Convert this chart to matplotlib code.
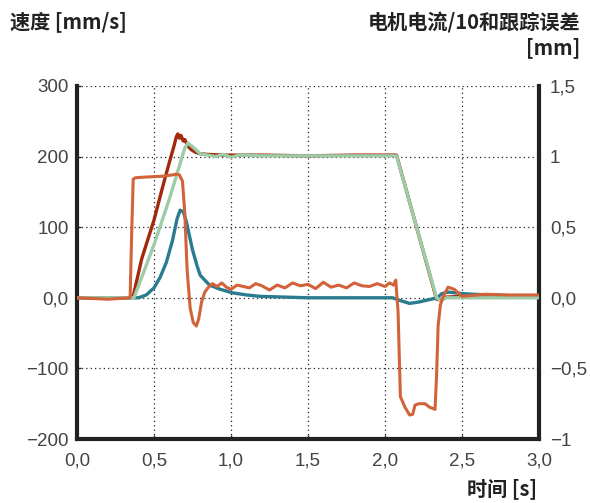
import matplotlib.pyplot as plt
from matplotlib.ticker import FixedLocator, FixedFormatter

plt.rcParams['font.family'] = ['Noto Sans CJK SC', 'DejaVu Sans']

# ─── 数据───
# 实际速度 [mm/s]
vel_t = [0.0, 0.20, 0.34, 0.365, 0.42, 0.50, 0.56, 0.60, 0.63, 0.645, 0.655, 0.665, 0.675, 0.69, 0.70,
         0.72, 0.74, 0.77, 0.80, 0.85, 0.95, 1.2, 1.5, 1.8, 2.0, 2.075, 2.20, 2.335, 2.36, 2.40, 2.5, 3.0]
vel_v = [0, -1, 0, 2, 55, 110, 160, 192, 215, 228, 232, 226, 230, 222, 224,
         215, 210, 206, 204, 203, 202, 202, 201, 202, 202, 202, 104, -2, -3, 1, 2, 2]

# 指令速度 [mm/s]
cmd_t = [0.0, 0.37, 0.50, 0.60, 0.70, 0.72, 0.75, 0.80, 0.85, 0.90, 0.95, 1.00, 1.05, 1.2, 1.5, 1.8, 2.075,
         2.20, 2.335, 2.36, 2.40, 2.5, 3.0]
cmd_v = [0, 0, 75, 140, 212, 219, 214, 204, 202, 200, 203, 199, 202, 201, 201, 201, 201,
         104, 0, -4, 0, 0, 0]

# 电机电流/10
cur_t = [0.0, 0.20, 0.345, 0.355, 0.365, 0.38, 0.45, 0.55, 0.62, 0.645, 0.665, 0.685, 0.70, 0.715, 0.735,
         0.755, 0.775, 0.79, 0.81, 0.83, 0.85, 0.88, 0.91, 0.94, 0.97, 1.00, 1.04, 1.08, 1.12, 1.16,
         1.20, 1.25, 1.30, 1.35, 1.40, 1.45, 1.50, 1.55, 1.60, 1.65, 1.70, 1.75, 1.80, 1.85, 1.90,
         1.95, 2.00, 2.03, 2.055, 2.07, 2.085, 2.10, 2.13, 2.16, 2.18, 2.195, 2.22, 2.26, 2.29, 2.325,
         2.335, 2.345, 2.36, 2.38, 2.41, 2.45, 2.50, 2.55, 2.65, 2.8, 3.0]
cur_v = [0, -2, 0, 90, 168, 170, 171, 172, 174, 175, 174, 165, 120, 40, -15,
         -35, -40, -30, -5, 8, 14, 20, 16, 21, 15, 12, 18, 16, 14, 20,
         17, 11, 18, 14, 21, 17, 19, 13, 22, 15, 18, 14, 21, 17, 16,
         20, 16, 21, 18, 25, -20, -140, -155, -166, -165, -152, -150, -150, -155, -158,
         -110, -40, -10, 3, 15, 12, 2, 3, 5, 4, 4]

# 跟踪误差 (按左轴刻度, 0,5 mm = 100)
err_t = [0.0, 0.40, 0.45, 0.50, 0.54, 0.58, 0.62, 0.65, 0.67, 0.69, 0.71, 0.73, 0.75, 0.78, 0.80,
         0.86, 0.93, 1.01, 1.10, 1.19, 1.5, 2.0, 2.05, 2.10, 2.16, 2.22, 2.30, 2.34, 2.37, 2.41,
         2.50, 2.57, 2.8, 3.0]
err_v = [0, 0, 4, 14, 29, 50, 81, 112, 124, 122, 108, 88, 68, 45, 32,
         18, 12, 7, 4, 2, 0, 0, 0, -4, -8, -6, -2, 0, 6, 8,
         6, 5, 3, 2]

x_ticks = [0.0, 0.5, 1.0, 1.5, 2.0, 2.5, 3.0]
x_labels = ["0,0", "0,5", "1,0", "1,5", "2,0", "2,5", "3,0"]
y_ticks = [-200, -100, 0, 100, 200, 300]
y_labels = ["\u2212200", "\u2212100", "0,0", "100", "200", "300"]
y2_labels = ["\u22121", "\u22120,5", "0,0", "0,5", "1", "1,5"]

fig = plt.figure(figsize=(5.9, 5.03), dpi=100)
ax = fig.add_axes([0.1305, 0.1272, 0.783, 0.702])

ax.plot(err_t, err_v, color="#2a7b90", lw=2.4, zorder=4)
ax.plot(vel_t, vel_v, color="#a3290c", lw=2.4, zorder=3)
ax.plot(cmd_t, cmd_v, color="#9dcca6", lw=2.4, zorder=5)
ax.plot(cur_t, cur_v, color="#d2623a", lw=2.2, zorder=6)

ax.set_xlim(0, 3)
ax.set_ylim(-200, 300)
ax.xaxis.set_major_locator(FixedLocator(x_ticks))
ax.xaxis.set_major_formatter(FixedFormatter(x_labels))
ax.yaxis.set_major_locator(FixedLocator(y_ticks))
ax.yaxis.set_major_formatter(FixedFormatter(y_labels))

for gx in x_ticks[1:-1]:
    ax.axvline(gx, color="#222", lw=0.9, ls=(0, (1, 2.5)), zorder=1)
for gy in [-100, 0, 100, 200, 300]:
    ax.axhline(gy, color="#222", lw=0.9, ls=(0, (1, 2.5)), zorder=1)

for side in ["left", "bottom", "right"]:
    ax.spines[side].set_linewidth(3)
    ax.spines[side].set_color("#222")
ax.spines["top"].set_visible(False)

ax.tick_params(axis="both", length=3, width=1, color="#222", labelsize=13.5,
               labelcolor="#444", direction="in", pad=6)
ax.tick_params(axis="x", pad=10)
ax.tick_params(axis="y", right=True, labelright=False)

ax2 = ax.twinx()
ax2.set_ylim(-200, 300)
ax2.yaxis.set_major_locator(FixedLocator(y_ticks))
ax2.yaxis.set_major_formatter(FixedFormatter(y2_labels))
ax2.tick_params(axis="y", length=0, labelsize=13.5, labelcolor="#444", pad=8)
for s in ax2.spines.values():
    s.set_visible(False)

for lab in ax.get_xticklabels() + ax.get_yticklabels() + ax2.get_yticklabels():
    lab.set_family(["Liberation Sans", "DejaVu Sans"])

fig.text(10/590, 1 - 22/503, "速度 [mm/s]", fontsize=14.5, fontweight="bold",
         ha="left", va="center", color="#222")
fig.text(580/590, 1 - 22/503, "电机电流/10和跟踪误差", fontsize=14.5, fontweight="bold",
         ha="right", va="center", color="#222")
fig.text(580/590, 1 - 48/503, "[mm]", fontsize=14.5, fontweight="bold",
         ha="right", va="center", color="#222")
fig.text(537/590, 1 - 489/503, "时间 [s]", fontsize=14.5, fontweight="bold",
         ha="right", va="center", color="#222")

fig.savefig("out.png", dpi=100)
